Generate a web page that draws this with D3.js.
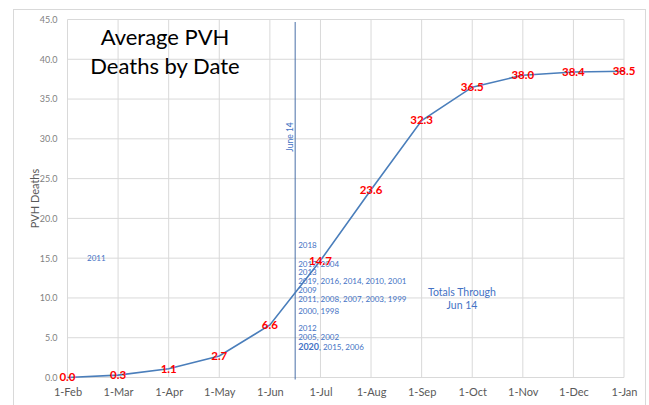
<!DOCTYPE html>
<html>
<head>
  <meta charset='utf-8'>
  <script src="https://d3js.org/d3.v7.min.js"></script>
  <style>
    body { margin: 0; background: #fff; }
    text { font-family: Lato, 'Open Sans', sans-serif; }
  </style>
</head>
<body>
  <script type='text/javascript'>
    // Chart data
    var months = ['1-Feb', '1-Mar', '1-Apr', '1-May', '1-Jun', '1-Jul', '1-Aug', '1-Sep', '1-Oct', '1-Nov', '1-Dec', '1-Jan'];
    var deaths = [0.0, 0.3, 1.1, 2.7, 6.6, 14.7, 23.6, 32.3, 36.5, 38.0, 38.4, 38.5];
    var yTicks = [0, 5, 10, 15, 20, 25, 30, 35, 40, 45];

    // Year annotations (totals through Jun 14), placed by value
    var yearLabels = ['2018', '2017, 2004', '2013', '2019, 2016, 2014, 2010, 2001', '2009',
      '2011, 2008, 2007, 2003, 1999', '2000, 1998', '2012', '2005, 2002', '2020, 2015, 2006'];
    var yearValues = [16.5, 14.2, 13.1, 12.0, 10.9, 9.8, 8.3, 6.1, 5.0, 3.7];
    var june14 = 4.5; // month index of the June 14 marker

    var W = 649, H = 405;
    var margin = {top: 19.5, right: 25, bottom: 27.5, left: 67.5};

    var svg = d3.select('body').append('svg')
      .attr('width', W).attr('height', H);

    // outer chart border
    svg.append('rect')
      .attr('x', 13.5).attr('y', 9.5).attr('width', 632).attr('height', 405)
      .attr('fill', 'none').attr('stroke', '#d9d9d9');

    var x = d3.scaleLinear().domain([0, months.length - 1]).range([margin.left, W - margin.right]);
    var y = d3.scaleLinear().domain([0, 45]).range([H - margin.bottom, margin.top]);

    // gridlines
    svg.append('g').selectAll('line.h').data(yTicks).enter().append('line')
      .attr('x1', x(0)).attr('x2', x(11))
      .attr('y1', function(d) { return y(d); }).attr('y2', function(d) { return y(d); })
      .attr('stroke', '#d9d9d9').attr('stroke-width', 1);
    svg.append('g').selectAll('line.v').data(months).enter().append('line')
      .attr('x1', function(d, i) { return x(i); }).attr('x2', function(d, i) { return x(i); })
      .attr('y1', y(45)).attr('y2', y(0))
      .attr('stroke', '#d9d9d9').attr('stroke-width', 1);

    // y axis
    var yAxis = svg.append('g')
      .attr('transform', 'translate(' + (margin.left - 7) + ',0)')
      .call(d3.axisLeft(y).tickValues(yTicks).tickFormat(d3.format('.1f')).tickSize(0));
    yAxis.select('.domain').remove();
    yAxis.selectAll('text').attr('fill', '#7f7f7f').style('font-size', '9px');

    // x axis
    var xAxis = svg.append('g')
      .attr('transform', 'translate(0,' + (y(0) + 8) + ')')
      .call(d3.axisBottom(x).tickValues(d3.range(months.length)).tickFormat(function(i) { return months[i]; }).tickSize(0));
    xAxis.select('.domain').remove();
    xAxis.selectAll('text').attr('fill', '#595959').style('font-size', '11px');

    // axis title
    svg.append('text')
      .attr('transform', 'translate(39,' + y(22.5) + ') rotate(-90)')
      .attr('text-anchor', 'middle')
      .attr('fill', '#595959')
      .style('font-size', '11px')
      .text('PVH Deaths');

    // June 14 marker
    svg.append('line')
      .attr('x1', x(june14)).attr('x2', x(june14))
      .attr('y1', 22).attr('y2', y(0) + 2)
      .attr('stroke', '#4a6fa8').attr('stroke-width', 1);
    svg.append('text')
      .attr('transform', 'translate(' + (x(june14) - 4.5) + ',137) rotate(-90)')
      .attr('text-anchor', 'middle')
      .attr('dominant-baseline', 'middle')
      .attr('fill', '#4472c4')
      .style('font-size', '8.5px')
      .text('June 14');

    // line
    var line = d3.line()
      .x(function(d, i) { return x(i); })
      .y(function(d) { return y(d); });
    svg.append('path')
      .datum(deaths)
      .attr('d', line)
      .attr('fill', 'none')
      .attr('stroke', '#4a7ebb')
      .attr('stroke-width', 1.6);

    // year annotations
    svg.append('g').selectAll('text').data(yearLabels).enter().append('text')
      .attr('x', x(june14) + 3)
      .attr('y', function(d, i) { return y(yearValues[i]); })
      .attr('dominant-baseline', 'middle')
      .attr('fill', '#4472c4')
      .style('font-size', '8px')
      .each(function(d) {
        var t = d3.select(this);
        if (d.indexOf('2020') === 0) {
          t.append('tspan').style('font-weight', 'bold').style('font-size', '9px').text('2020');
          t.append('tspan').text(d.slice(4));
        } else {
          t.text(d);
        }
      });
    svg.append('text')
      .attr('x', x(0.57)).attr('y', y(14.9))
      .attr('text-anchor', 'middle').attr('dominant-baseline', 'middle')
      .attr('fill', '#4472c4').style('font-size', '8px')
      .text('2011');

    // Totals through note
    svg.append('text')
      .attr('x', 462).attr('y', y(10.6))
      .attr('text-anchor', 'middle').attr('dominant-baseline', 'middle')
      .attr('fill', '#4472c4').style('font-size', '10.5px')
      .text('Totals Through');
    svg.append('text')
      .attr('x', 462).attr('y', y(9.0))
      .attr('text-anchor', 'middle').attr('dominant-baseline', 'middle')
      .attr('fill', '#4472c4').style('font-size', '10.5px')
      .text('Jun 14');

    // data labels
    svg.append('g').selectAll('text').data(deaths).enter().append('text')
      .attr('x', function(d, i) { return x(i); })
      .attr('y', function(d) { return y(d) + 1; })
      .attr('text-anchor', 'middle')
      .attr('dominant-baseline', 'middle')
      .attr('fill', '#ff0000')
      .style('font-size', '11.5px')
      .style('font-weight', 'bold')
      .text(function(d) { return d.toFixed(1); });

    // title
    svg.append('text')
      .attr('x', 165).attr('y', 45)
      .attr('text-anchor', 'middle')
      .style('font-size', '22px')
      .attr('fill', '#000')
      .text('Average PVH');
    svg.append('text')
      .attr('x', 165).attr('y', 74)
      .attr('text-anchor', 'middle')
      .style('font-size', '22px')
      .attr('fill', '#000')
      .text('Deaths by Date');
  </script>
</body>
</html>
